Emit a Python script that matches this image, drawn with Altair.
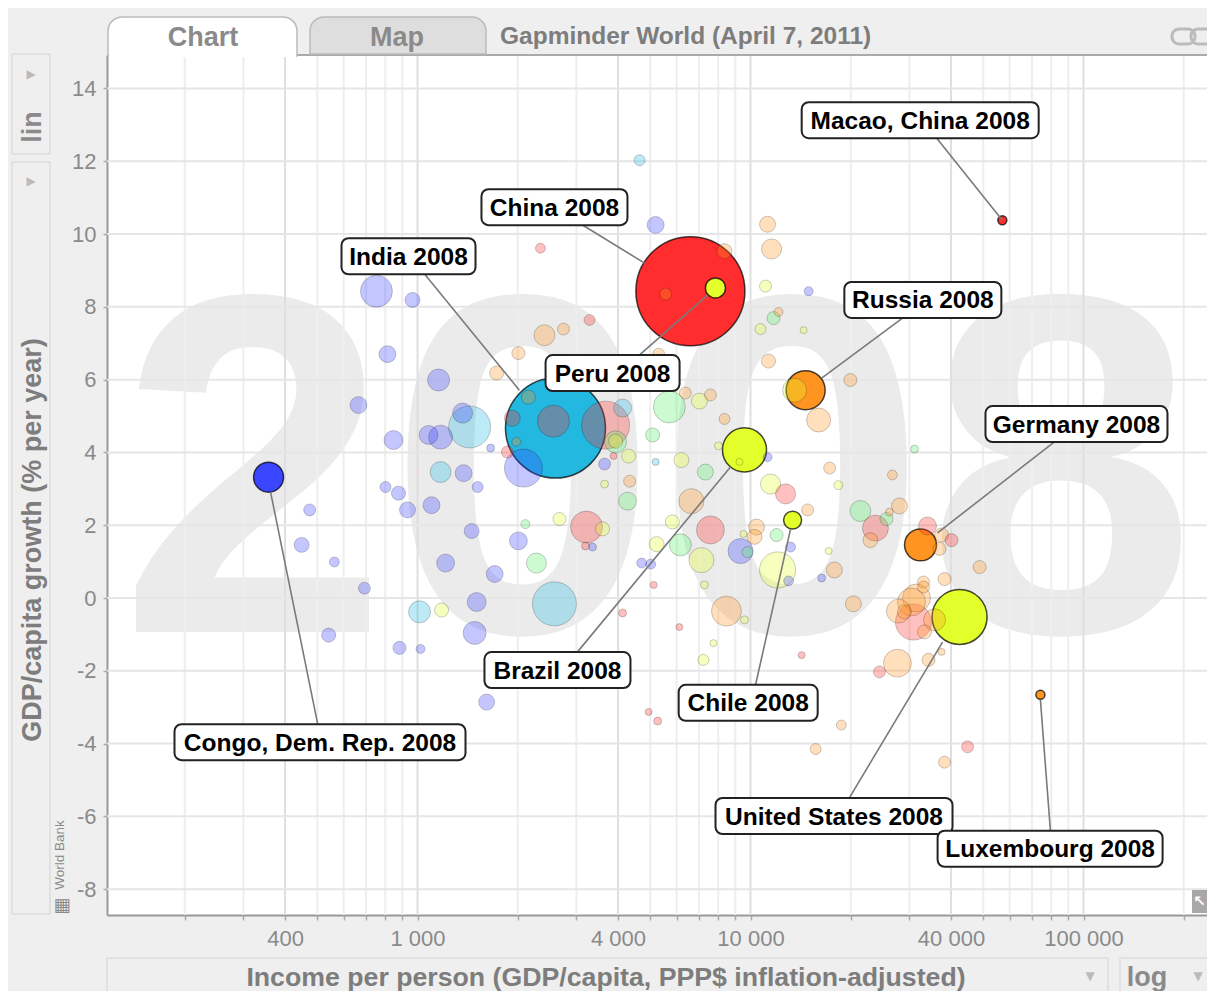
import altair as alt
import pandas as pd

# ---------- values ----------
# highlighted countries
hl_names = ["China", "India", "United States", "Brazil", "Russia", "Germany",
            "Congo, Dem. Rep.", "Peru", "Chile", "Macao, China", "Luxembourg"]
hl_region = ["east_asia", "south_asia", "americas", "americas", "europe", "europe",
             "africa", "americas", "americas", "east_asia", "europe"]
hl_log_income = [3.817, 3.413, 4.623, 3.979, 4.162, 4.506, 2.554, 3.892, 4.123, 4.751, 4.865]
hl_growth = [8.43, 4.67, -0.52, 4.07, 5.71, 1.46, 3.32, 8.52, 2.14, 10.38, -2.66]
hl_pop = [1325, 1115, 337, 216, 170, 114, 100, 45, 36, 9, 9]

# other countries, by region
africa_log = [2.877, 2.985, 2.910, 3.063, 2.823, 2.928, 3.135, 3.033, 3.069, 3.219, 3.138, 3.180, 2.904, 2.943, 3.042, 2.970, 2.677, 3.162, 2.653, 2.751, 2.841, 2.734, 2.946, 3.009, 3.171, 3.177, 3.084, 3.231, 3.302, 3.524, 3.671, 3.698, 3.207, 3.713, 4.171, 3.317, 3.560, 4.048, 3.967, 4.117, 4.111, 4.210]
africa_growth = [8.43, 8.19, 6.70, 5.99, 5.30, 4.34, 5.08, 4.48, 4.42, 4.12, 3.43, 3.05, 3.05, 2.88, 2.55, 2.42, 2.42, 1.84, 1.46, 0.99, 0.27, -1.02, -1.37, -1.40, -0.96, -0.11, 0.96, 0.66, 1.57, 1.40, 0.96, 0.93, -2.86, 10.25, 8.43, 3.57, 3.68, 3.87, 1.29, 1.40, 0.47, 0.55]
africa_pop = [114, 25, 32, 54, 32, 40, 45, 40, 64, 7, 32, 13.5, 13.5, 22, 32, 28.5, 16, 25, 25, 11, 16, 22, 19, 9, 59, 40, 36, 32, 36, 7, 11, 11, 28.5, 32, 9, 161, 16, 9, 70, 11, 11, 7]

south_asia_log = [3.156, 3.069, 3.006, 3.410, 3.614, 3.713, 3.665]
south_asia_growth = [4.70, 3.46, -0.38, -0.16, 5.22, 3.74, 12.03]
south_asia_pop = [197, 49, 54, 216, 36, 5.5, 13.5]

mena_log = [3.356, 3.323, 3.629, 3.787, 3.754, 3.704, 3.593, 3.862, 4.066, 4.075, 4.326, 4.404, 4.488, 3.988]
mena_growth = [0.96, 2.03, 2.66, 1.46, 5.25, 4.48, 4.29, 3.46, 7.69, 1.73, 2.39, 2.17, 4.09, 1.26]
mena_pop = [45, 9, 36, 54, 114, 22, 54, 28.5, 19, 19, 49, 19, 7, 13.5]

americas_log = [3.072, 3.425, 3.554, 3.763, 3.716, 3.850, 4.078, 4.042, 4.027, 4.156, 4.129, 3.844, 3.901, 3.593, 3.632, 3.560, 3.790, 4.057, 4.260, 3.976, 4.231, 3.979, 3.859, 3.886, 3.856, 3.964]
americas_growth = [-0.33, 2.17, 1.90, 2.09, 1.48, 1.04, 0.77, 8.57, 7.39, 7.36, 5.71, 5.41, 4.18, 4.31, 3.90, 3.13, 3.79, 3.13, 3.10, 1.76, 1.29, -0.60, 0.36, -1.24, -1.70, 3.74]
americas_pop = [22, 19, 22, 22, 25, 70, 145, 16, 13.5, 5.5, 64, 28.5, 7, 22, 22, 7, 25, 45, 9, 5.5, 5.5, 7, 7, 5.5, 13.5, 5.5]

east_asia_log = [3.368, 3.515, 3.563, 3.284, 3.269, 3.407, 3.587, 3.506, 3.503, 3.707, 3.614, 3.692, 3.719, 3.784, 4.150, 3.877, 4.102, 4.371, 4.527, 4.599, 4.485, 4.383, 4.647]
east_asia_growth = [9.61, 7.64, 4.75, 4.94, 4.01, 4.86, 3.90, 1.95, 1.43, 0.36, -0.41, -3.13, -3.38, -0.80, -1.57, 1.87, 2.86, 1.92, 1.98, 1.59, -0.66, -2.03, -4.09]
east_asia_pop = [11, 13.5, 257, 28.5, 16, 114, 5.5, 114, 7, 5.5, 7, 5.5, 7, 5.5, 5.5, 87, 45, 75, 36, 19, 145, 16, 16]

europe_log = [3.237, 3.919, 4.048, 4.060, 3.743, 4.081, 3.380, 3.437, 3.302, 3.722, 4.051, 4.296, 3.802, 3.877, 3.919, 4.201, 4.234, 3.635, 3.820, 4.168, 4.015, 4.009, 4.248, 4.443, 4.413, 4.356, 4.569, 4.563, 4.683, 4.578, 4.515, 4.515, 4.494, 4.440, 4.479, 4.458, 4.548, 4.518, 4.305, 3.925, 4.437, 4.530, 4.569, 4.269, 4.192, 4.578, 4.422, 3.332, 3.296]
europe_growth = [6.18, 9.53, 10.27, 9.59, 8.35, 7.86, 7.22, 7.39, 6.73, 6.70, 6.51, 5.99, 5.63, 5.58, 4.92, 4.89, 3.57, 3.21, 2.66, 2.42, 1.95, 1.68, 0.77, 2.53, 2.36, 1.59, 1.73, 1.35, 0.85, 0.52, 0.44, 0.30, 0.00, -0.36, -0.11, -0.38, -0.60, -0.93, -0.16, -0.36, -1.79, -1.70, -1.48, -3.49, -4.15, -4.51, 3.38, 5.52, 4.29]
europe_pop = [22, 25, 28.5, 45, 16, 9, 49, 16, 19, 16, 22, 19, 16, 16, 13.5, 64, 16, 16, 70, 16, 28.5, 25, 28.5, 28.5, 7, 25, 22, 19, 19, 19, 16, 16, 87, 64, 87, 22, 54, 22, 28.5, 100, 87, 19, 5.5, 11, 13.5, 16, 11, 22, 9]

# callouts: box centre and the two ends of the leader line, in chart units
label_names = ["Macao, China", "China", "India", "Peru", "Russia", "Germany", "Brazil", "Chile",
               "Congo, Dem. Rep.", "United States", "Luxembourg"]
label_log = [4.505, 3.410, 2.973, 3.584, 4.513, 4.973, 3.419, 3.990, 2.708, 4.247, 4.894]
label_growth = [13.13, 10.74, 9.39, 6.18, 8.19, 4.78, -1.98, -2.88, -3.96, -5.99, -6.89]
leader_log0 = [4.554, 3.494, 3.021, 3.665, 4.452, 4.907, 3.479, 4.012, 2.701, 4.293, 4.895]
leader_growth0 = [12.64, 10.25, 8.90, 6.68, 7.69, 4.29, -1.48, -2.39, -3.46, -5.49, -6.40]
leader_log1 = [4.751, 3.680, 3.305, 3.868, 4.210, 4.557, 3.937, 4.117, 2.560, 4.572, 4.865]
leader_growth1 = [10.38, 9.20, 5.71, 8.32, 6.04, 1.79, 3.60, 1.90, 2.91, -1.21, -2.80]

x_ticks = [200, 300, 400, 500, 600, 700, 800, 900, 1000, 2000, 3000, 4000, 5000, 6000, 7000, 8000, 9000,
           10000, 20000, 30000, 40000, 50000, 60000, 70000, 80000, 90000, 100000, 200000]
x_labelled = [400, 1000, 4000, 10000, 40000, 100000]
y_ticks = [14, 12, 10, 8, 6, 4, 2, 0, -2, -4, -6, -8]

regions = ["africa", "south_asia", "mena", "americas", "east_asia", "europe"]
region_colors = ["#3a46ff", "#22b8e0", "#55ee66", "#e3ff2b", "#ff2d2d", "#ff9420"]

# ---------- tables ----------
READ_PX_PER_DECADE = 334
AXIS_PX_PER_DECADE = 333


def income(log_value):
    return 10 ** (3 + (log_value - 3) * READ_PX_PER_DECADE / AXIS_PX_PER_DECADE)


rows = []
for reg, ls, gs, ps in [("africa", africa_log, africa_growth, africa_pop),
                        ("south_asia", south_asia_log, south_asia_growth, south_asia_pop),
                        ("mena", mena_log, mena_growth, mena_pop),
                        ("americas", americas_log, americas_growth, americas_pop),
                        ("east_asia", east_asia_log, east_asia_growth, east_asia_pop),
                        ("europe", europe_log, europe_growth, europe_pop)]:
    for l, g, p in zip(ls, gs, ps):
        rows.append(dict(region=reg, income=income(l), growth=g, pop=p, fo=0.3, so=0.2, sw=1.0))
for n, reg, l, g, p in zip(hl_names, hl_region, hl_log_income, hl_growth, hl_pop):
    rows.append(dict(region=reg, income=income(l), growth=g, pop=p, fo=1.0, so=0.72, sw=1.5))
bubbles = pd.DataFrame(rows).sort_values("pop", ascending=False, kind="stable")

leaders = pd.DataFrame(dict(x=[income(v) for v in leader_log0], x2=[income(v) for v in leader_log1],
                            y=leader_growth0, y2=leader_growth1))

# ---------- scales ----------
PX0, PY0 = 107, 55
W, H = 1100, 860
xs = alt.Scale(type="log", domain=[116.8, 234900], nice=False, zero=False)
ys = alt.Scale(type="linear", domain=[-8.71, 14.92], nice=False, zero=False)
GRAY = "#8a8a8a"
FONT = "Liberation Sans"
one = alt.Data(values=[{"a": 1}])


def box(x0, y0, x1, y1, **kw):
    return alt.Chart(one).mark_rect(**kw).encode(
        x=alt.value(x0 - PX0), x2=alt.value(x1 - PX0), y=alt.value(y0 - PY0), y2=alt.value(y1 - PY0))


def txt(s, x, y, **kw):
    kw.setdefault("font", FONT)
    kw.setdefault("fill", GRAY)
    return alt.Chart(one).mark_text(text=s, **kw).encode(x=alt.value(x - PX0), y=alt.value(y - PY0))


def hline(x0, x1, y, color, width):
    return alt.Chart(one).mark_rule(color=color, strokeWidth=width).encode(
        x=alt.value(x0 - PX0), x2=alt.value(x1 - PX0), y=alt.value(y - PY0))


layers = []

# watermark year, under the grid
layers.append(txt("2008", 657.5, 632, fontSize=484, fontWeight="bold", align="center", baseline="alphabetic", fill="#ebebeb"))

# grid and axes
label_expr = "indexof([400,1000,4000,10000,40000,100000], datum.value) >= 0 ? replace(format(datum.value, ','), ',', ' ') : ''"
x_axis = alt.Axis(values=x_ticks, labelExpr=label_expr, labelOverlap=False, grid=False, title=None,
                  labelFont=FONT, labelFontSize=22, labelColor=GRAY, labelPadding=8, labelFlush=False,
                  tickColor="#aaaaaa", tickSize=5, tickWidth=1.5, domainColor="#999999", domainWidth=2)
y_axis = alt.Axis(values=y_ticks, labelExpr="'' + datum.value", grid=False, title=None, labelFont=FONT,
                  labelFontSize=22, labelColor=GRAY, labelPadding=7, tickColor="#aaaaaa", tickSize=4,
                  tickWidth=1.5, domainColor="#999999", domainWidth=2)
layers.append(alt.Chart(pd.DataFrame({"v": [t for t in x_ticks if t not in x_labelled]}))
              .mark_rule(color="#eeeeee", strokeWidth=2)
              .encode(x=alt.X("v:Q", scale=xs, axis=x_axis)))
layers.append(alt.Chart(pd.DataFrame({"v": x_labelled}))
              .mark_rule(color="#dfdfdf", strokeWidth=2)
              .encode(x=alt.X("v:Q", scale=xs, axis=x_axis)))
layers.append(alt.Chart(pd.DataFrame({"v": y_ticks}))
              .mark_rule(color="#e6e6e6", strokeWidth=2)
              .encode(y=alt.Y("v:Q", scale=ys, axis=y_axis)))

# bubbles, largest first so small ones sit on top
layers.append(alt.Chart(bubbles).mark_circle(stroke="#000000", opacity=1).encode(
    x=alt.X("income:Q", scale=xs, axis=x_axis),
    y=alt.Y("growth:Q", scale=ys, axis=y_axis),
    size=alt.Size("pop:Q", scale=alt.Scale(type="linear", domain=[0, 1325], range=[0, 11881]), legend=None),
    color=alt.Color("region:N", scale=alt.Scale(domain=regions, range=region_colors), legend=None),
    fillOpacity=alt.FillOpacity("fo:Q", scale=None),
    strokeOpacity=alt.StrokeOpacity("so:Q", scale=None),
    strokeWidth=alt.StrokeWidth("sw:Q", scale=None),
))

# leader lines
layers.append(alt.Chart(leaders).mark_rule(color="#7a7a7a", strokeWidth=1.6).encode(
    x=alt.X("x:Q", scale=xs, axis=x_axis), x2="x2:Q",
    y=alt.Y("y:Q", scale=ys, axis=y_axis), y2="y2:Q"))

# callout boxes
box_w = [237, 146, 134, 134, 157, 182, 146, 139, 291, 237, 225]
for name, l, g, w in zip(label_names, label_log, label_growth, box_w):
    row = pd.DataFrame({"x": [income(l)], "y": [g], "t": [name + " 2008"]})
    layers.append(alt.Chart(row).mark_rect(width=w, height=36, cornerRadius=7, fill="white",
                                           stroke="#222222", strokeWidth=2).encode(
        x=alt.X("x:Q", scale=xs, axis=x_axis), y=alt.Y("y:Q", scale=ys, axis=y_axis)))
    layers.append(alt.Chart(row).mark_text(font=FONT, fontWeight="bold", fontSize=24.5, color="#000000", dy=1.5).encode(
        x=alt.X("x:Q", scale=xs, axis=x_axis), y=alt.Y("y:Q", scale=ys, axis=y_axis), text="t:N"))

# ---------- page furniture ----------
layers.append(hline(297, 1215, 55, "#aaaaaa", 2))
layers.append(box(108, 17, 297, 56, fill="white", stroke="#bbbbbb", strokeWidth=1.5, cornerRadiusTopLeft=14, cornerRadiusTopRight=14))
layers.append(hline(109, 296, 55.5, "white", 3))
layers.append(box(310, 17, 486, 54, fill="#dedede", stroke="#bbbbbb", strokeWidth=1.5, cornerRadiusTopLeft=14, cornerRadiusTopRight=14))
layers.append(txt("Chart", 203, 38, fontSize=27, fontWeight="bold", align="center", baseline="middle"))
layers.append(txt("Map", 397, 38, fontSize=27, fontWeight="bold", align="center", baseline="middle"))
layers.append(txt("Gapminder World (April 7, 2011)", 500, 37, fontSize=24.5, fontWeight="bold", align="left", baseline="middle", fill="#7d7d7d"))
layers.append(box(1172, 29, 1195, 44, fillOpacity=0, stroke="#bbbbbb", strokeWidth=3, cornerRadius=7))
layers.append(box(1191, 29, 1214, 44, fillOpacity=0, stroke="#bbbbbb", strokeWidth=3, cornerRadius=7))

layers.append(box(12, 54, 50, 154, fill="#efefef", stroke="#dddddd", strokeWidth=1.5))
layers.append(box(12, 162, 50, 914, fill="#efefef", stroke="#dddddd", strokeWidth=1.5))
layers.append(txt("▶", 31, 74, font="DejaVu Sans", fontSize=12, align="center", baseline="middle", fill="#bbbbbb"))
layers.append(txt("▶", 31, 181, font="DejaVu Sans", fontSize=12, align="center", baseline="middle", fill="#bbbbbb"))
layers.append(txt("lin", 33, 127, fontSize=27, fontWeight="bold", angle=270, align="center", baseline="middle"))
layers.append(txt("GDP/capita growth (% per year)", 33, 540, fontSize=27, fontWeight="bold", angle=270, align="center", baseline="middle", fill="#7d7d7d"))
layers.append(txt("World Bank", 60, 855, fontSize=13.5, angle=270, align="center", baseline="middle"))
layers.append(txt("▦", 62, 906, font="DejaVu Sans", fontSize=18, align="center", baseline="middle"))

layers.append(box(107, 958, 1108, 995, fill="#efefef", stroke="#dddddd", strokeWidth=1.5))
layers.append(box(1120, 958, 1220, 995, fill="#efefef", stroke="#dddddd", strokeWidth=1.5))
layers.append(txt("Income per person (GDP/capita, PPP$ inflation-adjusted)", 606, 978, fontSize=26.7, fontWeight="bold", align="center", baseline="middle", fill="#7d7d7d"))
layers.append(txt("log", 1147, 978, fontSize=27, fontWeight="bold", align="center", baseline="middle"))
layers.append(txt("▼", 1090, 976, font="DejaVu Sans", fontSize=12, align="center", baseline="middle", fill="#bbbbbb"))
layers.append(txt("▼", 1198, 976, font="DejaVu Sans", fontSize=12, align="center", baseline="middle", fill="#bbbbbb"))

layers.append(box(1192, 890, 1215, 913, fill="#a8a8a8"))
layers.append(txt("↖", 1199.5, 901, font="DejaVu Sans", fontSize=15, fontWeight="bold", align="center", baseline="middle", fill="white"))

chart = alt.layer(*layers).properties(
    width=W, height=H,
    background="#efefef",
    autosize=alt.AutoSizeParams(type="none"),
    padding={"left": PX0 - 8, "top": PY0 - 8, "right": 0, "bottom": 76},
).configure_view(fill="white", stroke=None)

chart.save("out.html", embed_options={"renderer": "svg", "actions": False})
